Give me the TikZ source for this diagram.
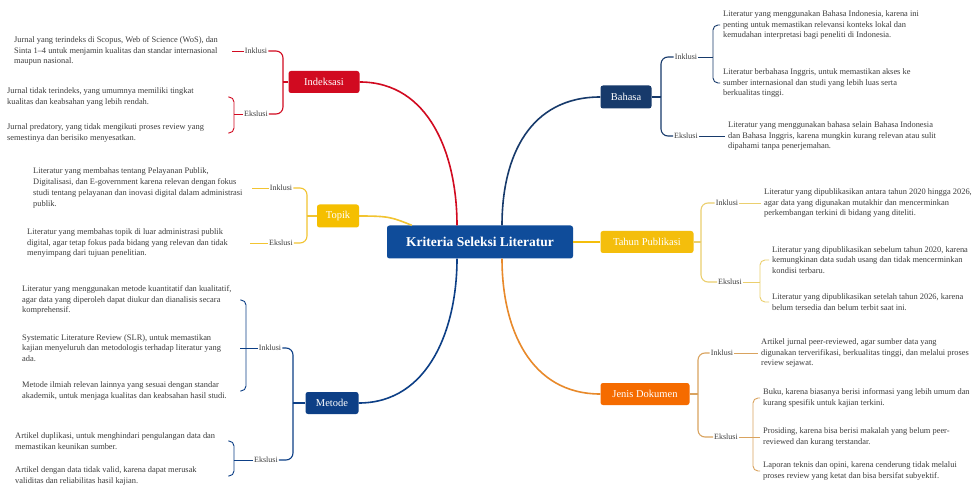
\documentclass[tikz,border=0pt]{standalone}
\usepackage{fontspec}
\setmainfont{Liberation Serif}
\definecolor{rootblue}{HTML}{0F4C9A}
\definecolor{idxred}{HTML}{D10A20}
\definecolor{topyellow}{HTML}{F5BF00}
\definecolor{mtdblue}{HTML}{0D3F86}
\definecolor{bhsnavy}{HTML}{173A6B}
\definecolor{thnyellow}{HTML}{F4BE0C}
\definecolor{jnsorange}{HTML}{F56B00}
\definecolor{topline}{HTML}{F2C431}
\definecolor{thnline}{HTML}{EBCF6E}
\definecolor{jnsline}{HTML}{E8892A}
\definecolor{jnstwig}{HTML}{D9A35F}
\definecolor{txtgray}{HTML}{3C3C3C}
\begin{document}
\begin{tikzpicture}[x=1pt, y=-1pt,
        cat/.style={rounded corners=2.5pt, text=white, font=\fontsize{10.5}{12}\selectfont, minimum height=22pt, inner xsep=4pt},
        lab/.style={font=\fontsize{8}{10}\selectfont, text=txtgray, inner sep=1pt},
        leaf/.style={font=\fontsize{8.4}{10.7}\selectfont, text=txtgray, align=left, inner xsep=3pt, inner ysep=1pt, anchor=west},
        branch/.style={line width=1.6pt},
        fork/.style={line width=1.1pt, rounded corners=7pt},
        twig/.style={line width=0.9pt, rounded corners=5pt}]
    \useasboundingbox[fill=white] (0,0) rectangle (977,486);

    \node[fill=rootblue, rounded corners=2.5pt, text=white, font=\fontsize{13.5}{16}\selectfont\bfseries, minimum width=186pt, minimum height=33pt] (root) at (480,242) {Kriteria Seleksi Literatur};

    \node[cat, fill=idxred, minimum width=71pt] (idx) at (324,82) {Indeksasi};
    \node[cat, fill=topyellow, minimum width=42pt, minimum height=23pt] (topik) at (338,216) {Topik};
    \node[cat, fill=mtdblue, minimum width=53pt] (mtd) at (332,403) {Metode};
    \node[cat, fill=bhsnavy, minimum width=51pt, minimum height=23pt] (bhs) at (626,97) {Bahasa};
    \node[cat, fill=thnyellow, minimum width=93pt] (thn) at (647,242) {Tahun Publikasi};
    \node[cat, fill=jnsorange, minimum width=89pt] (jns) at (645,394) {Jenis Dokumen};

    \node[lab] (idxinc) at (256,51) {Inklusi};
    \node[lab] (idxexc) at (256,114) {Ekslusi};
    \node[lab] (topinc) at (281,188) {Inklusi};
    \node[lab] (topexc) at (281,243) {Ekslusi};
    \node[lab] (mtdinc) at (270,348) {Inklusi};
    \node[lab] (mtdexc) at (266,460) {Ekslusi};
    \node[lab] (bhsinc) at (686,57) {Inklusi};
    \node[lab] (bhsexc) at (686,136) {Ekslusi};
    \node[lab] (thninc) at (727,203) {Inklusi};
    \node[lab] (thnexc) at (730,282) {Ekslusi};
    \node[lab] (jnsinc) at (722,353) {Inklusi};
    \node[lab] (jnsexc) at (726,437) {Ekslusi};

    \node[leaf] (idx1) at (11,51) {Jurnal yang terindeks di Scopus, Web of Science (WoS), dan\\Sinta 1–4 untuk menjamin kualitas dan standar internasional\\maupun nasional.};
    \node[leaf] (idx2) at (4,97) {Jurnal tidak terindeks, yang umumnya memiliki tingkat\\kualitas dan keabsahan yang lebih rendah.};
    \node[leaf] (idx3) at (4,133) {Jurnal predatory, yang tidak mengikuti proses review yang\\semestinya dan berisiko menyesatkan.};
    \node[leaf] (top1) at (30,188) {Literatur yang membahas tentang Pelayanan Publik,\\Digitalisasi, dan E-government karena relevan dengan fokus\\studi tentang pelayanan dan inovasi digital dalam administrasi\\publik.};
    \node[leaf] (top2) at (24,243) {Literatur yang membahas topik di luar administrasi publik\\digital, agar tetap fokus pada bidang yang relevan dan tidak\\menyimpang dari tujuan penelitian.};
    \node[leaf] (mtd1) at (19,300) {Literatur yang menggunakan metode kuantitatif dan kualitatif,\\agar data yang diperoleh dapat diukur dan dianalisis secara\\komprehensif.};
    \node[leaf] (mtd2) at (19,348) {Systematic Literature Review (SLR), untuk memastikan\\kajian menyeluruh dan metodologis terhadap literatur yang\\ada.};
    \node[leaf] (mtd3) at (19,391) {Metode ilmiah relevan lainnya yang sesuai dengan standar\\akademik, untuk menjaga kualitas dan keabsahan hasil studi.};
    \node[leaf] (mtd4) at (12,441) {Artikel duplikasi, untuk menghindari pengulangan data dan\\memastikan keunikan sumber.};
    \node[leaf] (mtd5) at (12,476) {Artikel dengan data tidak valid, karena dapat merusak\\validitas dan reliabilitas hasil kajian.};
    \node[leaf] (bhs1) at (720,25) {Literatur yang menggunakan Bahasa Indonesia, karena ini\\penting untuk memastikan relevansi konteks lokal dan\\kemudahan interpretasi bagi peneliti di Indonesia.};
    \node[leaf] (bhs2) at (720,83) {Literatur berbahasa Inggris, untuk memastikan akses ke\\sumber internasional dan studi yang lebih luas serta\\berkualitas tinggi.};
    \node[leaf] (bhs3) at (725,136) {Literatur yang menggunakan bahasa selain Bahasa Indonesia\\dan Bahasa Inggris, karena mungkin kurang relevan atau sulit\\dipahami tanpa penerjemahan.};
    \node[leaf] (thn1) at (761,203) {Literatur yang dipublikasikan antara tahun 2020 hingga 2026,\\agar data yang digunakan mutakhir dan mencerminkan\\perkembangan terkini di bidang yang diteliti.};
    \node[leaf] (thn2) at (769,260) {Literatur yang dipublikasikan sebelum tahun 2020, karena\\kemungkinan data sudah usang dan tidak mencerminkan\\kondisi terbaru.};
    \node[leaf] (thn3) at (769,302) {Literatur yang dipublikasikan setelah tahun 2026, karena\\belum tersedia dan belum terbit saat ini.};
    \node[leaf] (jns1) at (758,353) {Artikel jurnal peer-reviewed, agar sumber data yang\\digunakan terverifikasi, berkualitas tinggi, dan melalui proses\\review sejawat.};
    \node[leaf] (jns2) at (760,398) {Buku, karena biasanya berisi informasi yang lebih umum dan\\kurang spesifik untuk kajian terkini.};
    \node[leaf] (jns3) at (760,437) {Prosiding, karena bisa berisi makalah yang belum peer-\\reviewed dan kurang terstandar.};
    \node[leaf] (jns4) at (760,471) {Laporan teknis dan opini, karena cenderung tidak melalui\\proses review yang ketat dan bisa bersifat subyektif.};

    \draw[branch, idxred] (idx.east) .. controls +(70,0) and +(0,-70) .. ([xshift=-23pt]root.north);
    \draw[branch, topline] (topik.east) .. controls +(30,0) and +(-20,-8) .. ([xshift=25pt]root.north west);
    \draw[branch, mtdblue] (mtd.east) .. controls +(70,0) and +(0,70) .. ([xshift=-23pt]root.south);
    \draw[branch, bhsnavy] (bhs.west) .. controls +(-70,0) and +(0,-70) .. ([xshift=22pt]root.north);
    \draw[branch, thnyellow] (root.east) -- (thn.west);
    \draw[branch, jnsline] (jns.west) .. controls +(-70,0) and +(0,70) .. ([xshift=22pt]root.south);

    \coordinate (idxfork) at (283,82);
    \coordinate (topfork) at (307,216);
    \coordinate (mtdfork) at (293,403);
    \coordinate (bhsfork) at (661,97);
    \coordinate (thnfork) at (701,242);
    \coordinate (jnsfork) at (698,394);
    \draw[fork, idxred] (idx.west) -- (idxfork);
    \draw[fork, idxred] (idxfork) |- (idxinc.east);
    \draw[fork, idxred] (idxfork) |- (idxexc.east);
    \draw[fork, topline] (topik.west) -- (topfork);
    \draw[fork, topline] (topfork) |- (topinc.east);
    \draw[fork, topline] (topfork) |- (topexc.east);
    \draw[fork, mtdblue] (mtd.west) -- (mtdfork);
    \draw[fork, mtdblue] (mtdfork) |- (mtdinc.east);
    \draw[fork, mtdblue] (mtdfork) |- (mtdexc.east);
    \draw[fork, bhsnavy] (bhs.east) -- (bhsfork);
    \draw[fork, bhsnavy] (bhsfork) |- (bhsinc.west);
    \draw[fork, bhsnavy] (bhsfork) |- (bhsexc.west);
    \draw[fork, thnline] (thn.east) -- (thnfork);
    \draw[fork, thnline] (thnfork) |- (thninc.west);
    \draw[fork, thnline] (thnfork) |- (thnexc.west);
    \draw[fork, jnstwig] (jns.east) -- (jnsfork);
    \draw[fork, jnstwig] (jnsfork) |- (jnsinc.west);
    \draw[fork, jnstwig] (jnsfork) |- (jnsexc.west);

    \coordinate (idxincend) at (232,0);
    \coordinate (idxexcfork) at (234,114);
    \coordinate (idxexcend) at (228,0);
    \coordinate (topincend) at (252,0);
    \coordinate (topexcend) at (250,0);
    \coordinate (mtdincfork) at (246,348);
    \coordinate (mtdincend) at (240,0);
    \coordinate (mtdexcfork) at (234,460);
    \coordinate (mtdexcend) at (228,0);
    \coordinate (bhsincfork) at (713,57);
    \coordinate (thnexcfork) at (760,282);
    \coordinate (jnsexcfork) at (753,437);

    \draw[twig, idxred] (idxinc.west) -- (idx1.east -| idxincend);
    \draw[twig, idxred] (idxexc.west) -- (idxexcfork);
    \draw[twig, idxred] (idxexcfork) |- (idx2.east -| idxexcend);
    \draw[twig, idxred] (idxexcfork) |- (idx3.east -| idxexcend);
    \draw[twig, topline] (topinc.west) -- (top1.east -| topincend);
    \draw[twig, topline] (topexc.west) -- (top2.east -| topexcend);
    \draw[twig, mtdblue] (mtdinc.west) -- (mtdincfork);
    \draw[twig, mtdblue] (mtdincfork) |- (mtd1.east -| mtdincend);
    \draw[twig, mtdblue] (mtdincfork) -- (mtd2.east -| mtdincend);
    \draw[twig, mtdblue] (mtdincfork) |- (mtd3.east -| mtdincend);
    \draw[twig, mtdblue] (mtdexc.west) -- (mtdexcfork);
    \draw[twig, mtdblue] (mtdexcfork) |- (mtd4.east -| mtdexcend);
    \draw[twig, mtdblue] (mtdexcfork) |- (mtd5.east -| mtdexcend);
    \draw[twig, bhsnavy] (bhsinc.east) -- (bhsincfork);
    \draw[twig, bhsnavy] (bhsincfork) |- (bhs1.west);
    \draw[twig, bhsnavy] (bhsincfork) |- (bhs2.west);
    \draw[twig, bhsnavy] (bhsexc.east) -- (bhs3.west);
    \draw[twig, thnline] (thninc.east) -- (thn1.west);
    \draw[twig, thnline] (thnexc.east) -- (thnexcfork);
    \draw[twig, thnline] (thnexcfork) |- (thn2.west);
    \draw[twig, thnline] (thnexcfork) |- (thn3.west);
    \draw[twig, jnstwig] (jnsinc.east) -- (jns1.west);
    \draw[twig, jnstwig] (jnsexc.east) -- (jnsexcfork);
    \draw[twig, jnstwig] (jnsexcfork) |- (jns2.west);
    \draw[twig, jnstwig] (jnsexcfork) -- (jns3.west);
    \draw[twig, jnstwig] (jnsexcfork) |- (jns4.west);
\end{tikzpicture}
\end{document}
